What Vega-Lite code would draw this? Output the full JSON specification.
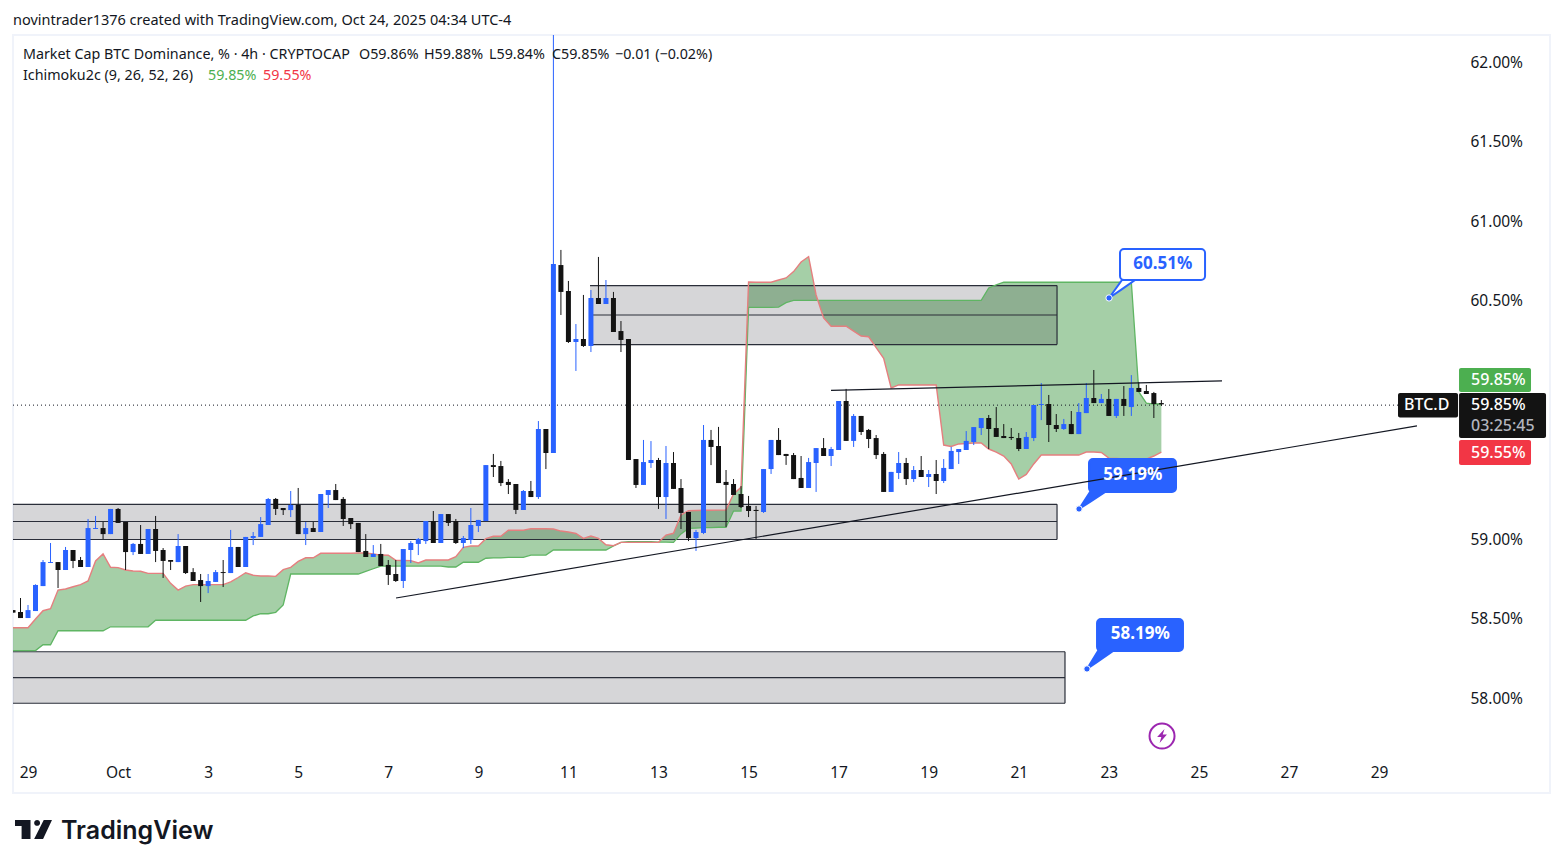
{
  "$schema": "https://vega.github.io/schema/vega-lite/v6.json",
  "autosize": {"type": "none"},
  "padding": {"left": 13, "top": 35, "right": 13, "bottom": 75},
  "width": 1537,
  "height": 758,
  "background": "#ffffff",
  "title": {"text": "novintrader1376 created with TradingView.com, Oct 24, 2025 04:34 UTC-4", "anchor": "start", "frame": "group", "offset": 7, "font": "Noto Sans", "fontSize": 14.5, "fontWeight": "normal", "color": "#131722"},
  "config": {"view": {"stroke": "#f0f3fa", "strokeWidth": 2}},
  "resolve": {"scale": {"color": "independent", "fill": "independent"}, "axis": {"x": "independent", "y": "independent"}},
  "datasets": {
    "bars": [
      {"i":-2,"o":58.556,"h":58.556,"l":58.54,"c":58.54,"a":58.301,"b":58.445},
      {"i":-1,"o":58.544,"h":58.632,"l":58.506,"c":58.506,"a":58.301,"b":58.445},
      {"i":0,"o":58.506,"h":58.588,"l":58.506,"c":58.556,"a":58.301,"b":58.445},
      {"i":1,"o":58.55,"h":58.718,"l":58.55,"c":58.714,"a":58.301,"b":58.5},
      {"i":2,"o":58.707,"h":58.871,"l":58.707,"c":58.858,"a":58.338,"b":58.552},
      {"i":3,"o":58.852,"h":58.978,"l":58.852,"c":58.858,"a":58.338,"b":58.565},
      {"i":4,"o":58.858,"h":58.858,"l":58.695,"c":58.808,"a":58.426,"b":58.682},
      {"i":5,"o":58.808,"h":58.953,"l":58.808,"c":58.934,"a":58.426,"b":58.689},
      {"i":6,"o":58.934,"h":58.934,"l":58.82,"c":58.865,"a":58.426,"b":58.703},
      {"i":7,"o":58.871,"h":58.89,"l":58.827,"c":58.827,"a":58.426,"b":58.716},
      {"i":8,"o":58.827,"h":59.129,"l":58.827,"c":59.072,"a":58.426,"b":58.739},
      {"i":9,"o":59.066,"h":59.148,"l":59.066,"c":59.072,"a":58.426,"b":58.865},
      {"i":10,"o":59.072,"h":59.11,"l":59.003,"c":59.034,"a":58.426,"b":58.909},
      {"i":11,"o":59.034,"h":59.192,"l":59.034,"c":59.192,"a":58.451,"b":58.825},
      {"i":12,"o":59.192,"h":59.198,"l":59.104,"c":59.104,"a":58.451,"b":58.823},
      {"i":13,"o":59.11,"h":59.11,"l":58.808,"c":58.921,"a":58.451,"b":58.808},
      {"i":14,"o":58.921,"h":58.978,"l":58.902,"c":58.972,"a":58.451,"b":58.802},
      {"i":15,"o":58.972,"h":59.091,"l":58.909,"c":58.909,"a":58.451,"b":58.8},
      {"i":16,"o":58.909,"h":59.066,"l":58.909,"c":59.066,"a":58.451,"b":58.787},
      {"i":17,"o":59.066,"h":59.148,"l":58.858,"c":58.928,"a":58.492,"b":58.787},
      {"i":18,"o":58.934,"h":58.946,"l":58.758,"c":58.865,"a":58.492,"b":58.787},
      {"i":19,"o":58.871,"h":58.871,"l":58.808,"c":58.86,"a":58.492,"b":58.724},
      {"i":20,"o":58.858,"h":59.034,"l":58.858,"c":58.959,"a":58.492,"b":58.682},
      {"i":21,"o":58.959,"h":58.959,"l":58.783,"c":58.789,"a":58.492,"b":58.707},
      {"i":22,"o":58.795,"h":58.82,"l":58.739,"c":58.739,"a":58.492,"b":58.716},
      {"i":23,"o":58.745,"h":58.783,"l":58.607,"c":58.707,"a":58.492,"b":58.716},
      {"i":24,"o":58.707,"h":58.783,"l":58.663,"c":58.739,"a":58.492,"b":58.716},
      {"i":25,"o":58.733,"h":58.808,"l":58.733,"c":58.795,"a":58.492,"b":58.716},
      {"i":26,"o":58.795,"h":58.871,"l":58.701,"c":58.789,"a":58.492,"b":58.716},
      {"i":27,"o":58.789,"h":59.06,"l":58.789,"c":58.953,"a":58.492,"b":58.733},
      {"i":28,"o":58.953,"h":58.953,"l":58.827,"c":58.827,"a":58.492,"b":58.761},
      {"i":29,"o":58.827,"h":59.016,"l":58.827,"c":59.016,"a":58.492,"b":58.791},
      {"i":30,"o":59.009,"h":59.047,"l":58.965,"c":59.022,"a":58.519,"b":58.775},
      {"i":31,"o":59.016,"h":59.141,"l":59.016,"c":59.097,"a":58.533,"b":58.77},
      {"i":32,"o":59.091,"h":59.261,"l":59.091,"c":59.255,"a":58.533,"b":58.77},
      {"i":33,"o":59.255,"h":59.261,"l":59.154,"c":59.192,"a":58.542,"b":58.768},
      {"i":34,"o":59.198,"h":59.198,"l":59.154,"c":59.185,"a":58.588,"b":58.81},
      {"i":35,"o":59.185,"h":59.305,"l":59.141,"c":59.217,"a":58.783,"b":58.825},
      {"i":36,"o":59.217,"h":59.324,"l":59.034,"c":59.034,"a":58.783,"b":58.862},
      {"i":37,"o":59.034,"h":59.11,"l":58.965,"c":59.072,"a":58.783,"b":58.885},
      {"i":38,"o":59.072,"h":59.11,"l":59.047,"c":59.047,"a":58.783,"b":58.885},
      {"i":39,"o":59.047,"h":59.286,"l":59.047,"c":59.286,"a":58.783,"b":58.913},
      {"i":40,"o":59.28,"h":59.311,"l":59.198,"c":59.311,"a":58.783,"b":58.913},
      {"i":41,"o":59.311,"h":59.349,"l":59.248,"c":59.248,"a":58.783,"b":58.913},
      {"i":42,"o":59.255,"h":59.267,"l":59.085,"c":59.129,"a":58.783,"b":58.913},
      {"i":43,"o":59.135,"h":59.135,"l":59.066,"c":59.097,"a":58.783,"b":58.913},
      {"i":44,"o":59.104,"h":59.104,"l":58.921,"c":58.921,"a":58.783,"b":58.915},
      {"i":45,"o":58.928,"h":59.034,"l":58.89,"c":58.89,"a":58.8,"b":58.915},
      {"i":46,"o":58.89,"h":58.965,"l":58.89,"c":58.909,"a":58.816,"b":58.909},
      {"i":47,"o":58.909,"h":58.972,"l":58.833,"c":58.833,"a":58.833,"b":58.902},
      {"i":48,"o":58.84,"h":58.871,"l":58.714,"c":58.777,"a":58.833,"b":58.901},
      {"i":49,"o":58.783,"h":58.871,"l":58.733,"c":58.739,"a":58.833,"b":58.869},
      {"i":50,"o":58.739,"h":58.94,"l":58.695,"c":58.94,"a":58.833,"b":58.868},
      {"i":51,"o":58.934,"h":58.99,"l":58.852,"c":58.978,"a":58.833,"b":58.867},
      {"i":52,"o":58.972,"h":59.009,"l":58.902,"c":59.003,"a":58.833,"b":58.852},
      {"i":53,"o":58.99,"h":59.116,"l":58.972,"c":59.116,"a":58.833,"b":58.871},
      {"i":54,"o":59.116,"h":59.179,"l":58.978,"c":58.978,"a":58.833,"b":58.871},
      {"i":55,"o":58.978,"h":59.16,"l":58.978,"c":59.16,"a":58.833,"b":58.871},
      {"i":56,"o":59.16,"h":59.16,"l":59.085,"c":59.104,"a":58.827,"b":58.871},
      {"i":57,"o":59.116,"h":59.129,"l":58.972,"c":58.978,"a":58.827,"b":58.892},
      {"i":58,"o":58.978,"h":59.022,"l":58.946,"c":59.009,"a":58.857,"b":58.951},
      {"i":59,"o":58.997,"h":59.198,"l":58.972,"c":59.091,"a":58.857,"b":58.959},
      {"i":60,"o":59.085,"h":59.123,"l":59.047,"c":59.123,"a":58.857,"b":58.959},
      {"i":61,"o":59.116,"h":59.468,"l":59.116,"c":59.468,"a":58.882,"b":59.005},
      {"i":62,"o":59.468,"h":59.538,"l":59.393,"c":59.456,"a":58.884,"b":59.02},
      {"i":63,"o":59.462,"h":59.494,"l":59.336,"c":59.355,"a":58.884,"b":59.02},
      {"i":64,"o":59.362,"h":59.38,"l":59.286,"c":59.343,"a":58.887,"b":59.058},
      {"i":65,"o":59.349,"h":59.349,"l":59.16,"c":59.186,"a":58.888,"b":59.058},
      {"i":66,"o":59.186,"h":59.311,"l":59.186,"c":59.305,"a":58.888,"b":59.058},
      {"i":67,"o":59.305,"h":59.368,"l":59.267,"c":59.267,"a":58.902,"b":59.068},
      {"i":68,"o":59.267,"h":59.745,"l":59.255,"c":59.695,"a":58.902,"b":59.068},
      {"i":69,"o":59.695,"h":59.695,"l":59.443,"c":59.544,"a":58.902,"b":59.068},
      {"i":70,"o":59.544,"h":62.3,"l":59.544,"c":60.733,"a":58.934,"b":59.066},
      {"i":71,"o":60.726,"h":60.821,"l":60.412,"c":60.557,"a":58.934,"b":59.053},
      {"i":72,"o":60.563,"h":60.626,"l":60.236,"c":60.242,"a":58.934,"b":59.047},
      {"i":73,"o":60.242,"h":60.355,"l":60.06,"c":60.261,"a":58.934,"b":59.038},
      {"i":74,"o":60.261,"h":60.538,"l":60.211,"c":60.217,"a":58.934,"b":59.007},
      {"i":75,"o":60.217,"h":60.569,"l":60.179,"c":60.519,"a":58.934,"b":59.022},
      {"i":76,"o":60.519,"h":60.777,"l":60.481,"c":60.481,"a":58.934,"b":59.007},
      {"i":77,"o":60.481,"h":60.632,"l":60.481,"c":60.519,"a":58.934,"b":58.967},
      {"i":78,"o":60.519,"h":60.557,"l":60.305,"c":60.305,"a":58.959,"b":58.961},
      {"i":79,"o":60.311,"h":60.374,"l":60.179,"c":60.255,"a":58.982,"b":58.982},
      {"i":80,"o":60.261,"h":60.261,"l":59.5,"c":59.5,"a":58.986,"b":58.982},
      {"i":81,"o":59.506,"h":59.506,"l":59.324,"c":59.343,"a":58.986,"b":58.982},
      {"i":82,"o":59.343,"h":59.626,"l":59.343,"c":59.487,"a":58.986,"b":58.982},
      {"i":83,"o":59.481,"h":59.619,"l":59.45,"c":59.5,"a":58.986,"b":58.982},
      {"i":84,"o":59.5,"h":59.513,"l":59.192,"c":59.267,"a":58.984,"b":58.982},
      {"i":85,"o":59.267,"h":59.588,"l":59.129,"c":59.481,"a":58.984,"b":59.028},
      {"i":86,"o":59.481,"h":59.55,"l":59.318,"c":59.318,"a":58.982,"b":59.039},
      {"i":87,"o":59.324,"h":59.38,"l":59.066,"c":59.167,"a":59.035,"b":59.154},
      {"i":88,"o":59.173,"h":59.173,"l":58.99,"c":59.009,"a":59.07,"b":59.181},
      {"i":89,"o":59.009,"h":59.06,"l":58.928,"c":59.047,"a":59.072,"b":59.182},
      {"i":90,"o":59.041,"h":59.72,"l":59.034,"c":59.626,"a":59.074,"b":59.184},
      {"i":91,"o":59.626,"h":59.689,"l":59.468,"c":59.582,"a":59.075,"b":59.184},
      {"i":92,"o":59.588,"h":59.708,"l":59.355,"c":59.355,"a":59.077,"b":59.185},
      {"i":93,"o":59.362,"h":59.437,"l":59.079,"c":59.343,"a":59.077,"b":59.185},
      {"i":94,"o":59.349,"h":59.38,"l":59.28,"c":59.28,"a":59.179,"b":59.286},
      {"i":95,"o":59.286,"h":59.336,"l":59.198,"c":59.204,"a":59.179,"b":59.328},
      {"i":96,"o":59.211,"h":59.274,"l":59.141,"c":59.179,"a":60.46,"b":60.619},
      {"i":97,"o":59.186,"h":59.211,"l":59.003,"c":59.179,"a":60.46,"b":60.618},
      {"i":98,"o":59.173,"h":59.443,"l":59.167,"c":59.443,"a":60.46,"b":60.618},
      {"i":99,"o":59.443,"h":59.626,"l":59.412,"c":59.626,"a":60.46,"b":60.618},
      {"i":100,"o":59.626,"h":59.701,"l":59.531,"c":59.531,"a":60.462,"b":60.632},
      {"i":101,"o":59.538,"h":59.538,"l":59.469,"c":59.525,"a":60.49,"b":60.645},
      {"i":102,"o":59.531,"h":59.544,"l":59.38,"c":59.38,"a":60.504,"b":60.685},
      {"i":103,"o":59.387,"h":59.525,"l":59.324,"c":59.324,"a":60.504,"b":60.745},
      {"i":104,"o":59.324,"h":59.513,"l":59.324,"c":59.487,"a":60.504,"b":60.779},
      {"i":105,"o":59.481,"h":59.575,"l":59.299,"c":59.575,"a":60.504,"b":60.538},
      {"i":106,"o":59.575,"h":59.638,"l":59.525,"c":59.525,"a":60.504,"b":60.393},
      {"i":107,"o":59.525,"h":59.582,"l":59.462,"c":59.569,"a":60.504,"b":60.341},
      {"i":108,"o":59.563,"h":59.871,"l":59.563,"c":59.871,"a":60.504,"b":60.341},
      {"i":109,"o":59.871,"h":59.947,"l":59.62,"c":59.62,"a":60.504,"b":60.341},
      {"i":110,"o":59.62,"h":59.789,"l":59.582,"c":59.777,"a":60.504,"b":60.311},
      {"i":111,"o":59.777,"h":59.777,"l":59.657,"c":59.676,"a":60.504,"b":60.28},
      {"i":112,"o":59.689,"h":59.695,"l":59.575,"c":59.632,"a":60.504,"b":60.275},
      {"i":113,"o":59.638,"h":59.657,"l":59.506,"c":59.531,"a":60.504,"b":60.207},
      {"i":114,"o":59.538,"h":59.55,"l":59.299,"c":59.299,"a":60.504,"b":60.14},
      {"i":115,"o":59.299,"h":59.425,"l":59.299,"c":59.425,"a":60.504,"b":59.953},
      {"i":116,"o":59.418,"h":59.55,"l":59.38,"c":59.481,"a":60.504,"b":59.972},
      {"i":117,"o":59.481,"h":59.513,"l":59.343,"c":59.38,"a":60.504,"b":59.972},
      {"i":118,"o":59.38,"h":59.462,"l":59.362,"c":59.437,"a":60.504,"b":59.972},
      {"i":119,"o":59.437,"h":59.525,"l":59.393,"c":59.393,"a":60.504,"b":59.972},
      {"i":120,"o":59.393,"h":59.437,"l":59.33,"c":59.412,"a":60.504,"b":59.972},
      {"i":121,"o":59.412,"h":59.5,"l":59.286,"c":59.368,"a":60.504,"b":59.972},
      {"i":122,"o":59.368,"h":59.506,"l":59.355,"c":59.45,"a":60.504,"b":59.594},
      {"i":123,"o":59.443,"h":59.582,"l":59.443,"c":59.557,"a":60.504,"b":59.585},
      {"i":124,"o":59.55,"h":59.569,"l":59.475,"c":59.569,"a":60.504,"b":59.601},
      {"i":125,"o":59.563,"h":59.682,"l":59.563,"c":59.62,"a":60.504,"b":59.604},
      {"i":126,"o":59.613,"h":59.707,"l":59.594,"c":59.707,"a":60.504,"b":59.607},
      {"i":127,"o":59.701,"h":59.764,"l":59.657,"c":59.764,"a":60.504,"b":59.607},
      {"i":128,"o":59.764,"h":59.783,"l":59.569,"c":59.695,"a":60.582,"b":59.569},
      {"i":129,"o":59.701,"h":59.833,"l":59.645,"c":59.645,"a":60.601,"b":59.55},
      {"i":130,"o":59.651,"h":59.726,"l":59.638,"c":59.638,"a":60.618,"b":59.525},
      {"i":131,"o":59.645,"h":59.701,"l":59.626,"c":59.638,"a":60.618,"b":59.475},
      {"i":132,"o":59.638,"h":59.67,"l":59.556,"c":59.569,"a":60.618,"b":59.38},
      {"i":133,"o":59.569,"h":59.676,"l":59.569,"c":59.645,"a":60.618,"b":59.409},
      {"i":134,"o":59.638,"h":59.846,"l":59.619,"c":59.846,"a":60.618,"b":59.475},
      {"i":135,"o":59.846,"h":59.984,"l":59.751,"c":59.852,"a":60.618,"b":59.531},
      {"i":136,"o":59.852,"h":59.909,"l":59.613,"c":59.72,"a":60.618,"b":59.531},
      {"i":137,"o":59.72,"h":59.789,"l":59.676,"c":59.695,"a":60.618,"b":59.531},
      {"i":138,"o":59.695,"h":59.758,"l":59.689,"c":59.726,"a":60.618,"b":59.531},
      {"i":139,"o":59.726,"h":59.808,"l":59.663,"c":59.663,"a":60.618,"b":59.531},
      {"i":140,"o":59.663,"h":59.858,"l":59.663,"c":59.802,"a":60.618,"b":59.531},
      {"i":141,"o":59.795,"h":59.984,"l":59.795,"c":59.89,"a":60.618,"b":59.55},
      {"i":142,"o":59.89,"h":60.066,"l":59.858,"c":59.858,"a":60.618,"b":59.55},
      {"i":143,"o":59.858,"h":59.915,"l":59.858,"c":59.884,"a":60.618,"b":59.547},
      {"i":144,"o":59.884,"h":59.946,"l":59.777,"c":59.777,"a":60.618,"b":59.512},
      {"i":145,"o":59.777,"h":59.884,"l":59.764,"c":59.884,"a":60.618,"b":59.509},
      {"i":146,"o":59.884,"h":59.965,"l":59.777,"c":59.84,"a":60.618,"b":59.506},
      {"i":147,"o":59.833,"h":60.034,"l":59.777,"c":59.953,"a":60.618,"b":59.506},
      {"i":148,"o":59.953,"h":59.99,"l":59.928,"c":59.928,"a":59.928,"b":59.506},
      {"i":149,"o":59.934,"h":59.972,"l":59.915,"c":59.915,"a":59.858,"b":59.506},
      {"i":150,"o":59.921,"h":59.928,"l":59.764,"c":59.852,"a":59.852,"b":59.525},
      {"i":151,"o":59.858,"h":59.877,"l":59.84,"c":59.85,"a":59.852,"b":59.55}
    ],
    "zones": [
      {"start":74.88,"end":137.1,"top":60.597,"mid":60.412,"bottom":60.226},
      {"start":-2,"end":137.1,"top":59.221,"mid":59.113,"bottom":59.0},
      {"start":-2,"end":138.16,"top":58.294,"mid":58.131,"bottom":57.97}
    ],
    "trend": [
      {"line":"support","i":49.03,"v":58.632},
      {"line":"support","i":185.06,"v":59.714},
      {"line":"resistance","i":106.99,"v":59.938},
      {"line":"resistance","i":159.08,"v":59.997}
    ],
    "last": [{"start":-2,"end":182.53,"v":59.845}],
    "pointers": [
      {"tag":"60.51%","kind":"outline","i":144.03,"v":60.519,"v2":60.519},
      {"tag":"60.51%","kind":"outline","i":145.76,"v":60.632,"v2":60.575},
      {"tag":"60.51%","kind":"outline","i":147.49,"v":60.632,"v2":60.632},
      {"tag":"59.19%","kind":"solid","i":140.03,"v":59.192,"v2":59.192},
      {"tag":"59.19%","kind":"solid","i":141.5,"v":59.299,"v2":59.237},
      {"tag":"59.19%","kind":"solid","i":143.5,"v":59.299,"v2":59.299},
      {"tag":"58.19%","kind":"solid","i":141.09,"v":58.186,"v2":58.186},
      {"tag":"58.19%","kind":"solid","i":142.56,"v":58.299,"v2":58.233},
      {"tag":"58.19%","kind":"solid","i":144.56,"v":58.299,"v2":58.299}
    ],
    "callouts": [
      {"kind":"outline","left":145.49,"right":156.82,"top":60.827,"bottom":60.632},
      {"kind":"solid","left":141.36,"right":152.95,"top":59.506,"bottom":59.299},
      {"kind":"solid","left":142.43,"right":153.88,"top":58.5,"bottom":58.299}
    ],
    "anchors": [
      {"i":144.03,"v":60.519},
      {"i":140.03,"v":59.192},
      {"i":141.09,"v":58.186}
    ],
    "calloutText": [
      {"kind":"outline","i":151.2,"v":60.733,"text":"60.51%"},
      {"kind":"solid","i":147.2,"v":59.406,"text":"59.19%"},
      {"kind":"solid","i":148.2,"v":58.406,"text":"58.19%"}
    ],
    "scaleTags": [
      {"kind":"ask","left":190.66,"right":200.25,"top":60.079,"bottom":59.928},
      {"kind":"bid","left":190.66,"right":200.25,"top":59.626,"bottom":59.469},
      {"kind":"price","left":190.66,"right":202.25,"top":59.921,"bottom":59.638},
      {"kind":"price","left":182.53,"right":190.53,"top":59.921,"bottom":59.767}
    ],
    "scaleText": [
      {"kind":"main","i":192.26,"v":60.0,"text":"59.85%"},
      {"kind":"main","i":192.26,"v":59.846,"text":"59.85%"},
      {"kind":"muted","i":192.26,"v":59.714,"text":"03:25:45"},
      {"kind":"main","i":192.26,"v":59.547,"text":"59.55%"},
      {"kind":"main","i":183.33,"v":59.846,"text":"BTC.D"}
    ],
    "header": [
      {"kind":"base","i":-0.67,"v":62.047,"text":"Market Cap BTC Dominance, % · 4h · CRYPTOCAP"},
      {"kind":"base","i":44.1,"v":62.047,"text":"O59.86%"},
      {"kind":"base","i":52.76,"v":62.047,"text":"H59.88%"},
      {"kind":"base","i":61.42,"v":62.047,"text":"L59.84%"},
      {"kind":"base","i":69.81,"v":62.047,"text":"C59.85%"},
      {"kind":"base","i":78.2,"v":62.047,"text":"−0.01 (−0.02%)"},
      {"kind":"base","i":-0.67,"v":61.915,"text":"Ichimoku2c (9, 26, 52, 26)"},
      {"kind":"up","i":23.98,"v":61.915,"text":"59.85%"},
      {"kind":"down","i":31.31,"v":61.915,"text":"59.55%"}
    ],
    "brand": [{"i":4.4,"v":57.167,"text":"TradingView"}],
    "logo": [{"i":0.73,"v":57.176}],
    "badge": [{"i":151.09,"v":57.764}]
  },
  "layer": [
    {
      "data": {"name": "bars"},
      "mark": {"type": "area", "color": "#4c9f50", "opacity": 0.5, "clip": true},
      "encoding": {
        "x": {
          "field": "i", "type": "quantitative", "title": null,
          "scale": {"domain": [-2, 202.78], "nice": false, "zero": false, "padding": 0},
          "axis": {
            "orient": "bottom", "offset": -38, "zindex": 1, "domain": false, "ticks": false, "grid": false, "labelPadding": 10,
            "values": [0,12,24,36,48,60,72,84,96,108,120,132,144,156,168,180],
            "labelExpr": "datum.value == 12 ? 'Oct' : '' + (29 + datum.value / 6 - (datum.value > 12 ? 30 : 0))",
            "labelFont": "Noto Sans", "labelFontSize": 15.5, "labelColor": "#131722", "labelOverlap": false
          }
        },
        "y": {
          "field": "a", "type": "quantitative", "title": null,
          "scale": {"domain": [57.4056, 62.1729], "nice": false, "zero": false},
          "axis": {
            "orient": "right", "offset": -80, "zindex": 0, "domain": false, "ticks": false, "grid": false, "labelPadding": 0,
            "values": [58,58.5,59,59.5,60,60.5,61,61.5,62],
            "format": ".2f", "labelExpr": "datum.label + '%'",
            "labelFont": "Noto Sans", "labelFontSize": 15.5, "labelColor": "#131722", "labelOverlap": false
          }
        },
        "y2": {"field": "b"}
      }
    },
    {
      "data": {"name": "zones"},
      "mark": {"type": "rect", "color": "#32323c", "fillOpacity": 0.2, "clip": true},
      "encoding": {
        "x": {"field": "start", "type": "quantitative", "axis": null},
        "x2": {"field": "end"},
        "y": {"field": "top", "type": "quantitative", "axis": null},
        "y2": {"field": "bottom"}
      }
    },
    {
      "data": {"name": "zones"},
      "mark": {"type": "rule", "color": "#2a2e39", "strokeWidth": 1.2, "clip": true},
      "encoding": {
        "x": {"field": "start", "type": "quantitative", "axis": null},
        "x2": {"field": "end"},
        "y": {"field": "top", "type": "quantitative", "axis": null}
      }
    },
    {
      "data": {"name": "zones"},
      "mark": {"type": "rule", "color": "#2a2e39", "strokeWidth": 1.2, "clip": true},
      "encoding": {
        "x": {"field": "start", "type": "quantitative", "axis": null},
        "x2": {"field": "end"},
        "y": {"field": "mid", "type": "quantitative", "axis": null}
      }
    },
    {
      "data": {"name": "zones"},
      "mark": {"type": "rule", "color": "#2a2e39", "strokeWidth": 1.2, "clip": true},
      "encoding": {
        "x": {"field": "start", "type": "quantitative", "axis": null},
        "x2": {"field": "end"},
        "y": {"field": "bottom", "type": "quantitative", "axis": null}
      }
    },
    {
      "data": {"name": "zones"},
      "mark": {"type": "rule", "color": "#2a2e39", "strokeWidth": 1.2, "clip": true},
      "encoding": {
        "x": {"field": "end", "type": "quantitative", "axis": null},
        "y": {"field": "top", "type": "quantitative", "axis": null},
        "y2": {"field": "bottom"}
      }
    },
    {
      "data": {"name": "bars"},
      "mark": {"type": "line", "color": "#5fb563", "strokeWidth": 1.3, "clip": true},
      "encoding": {
        "x": {"field": "i", "type": "quantitative", "axis": null},
        "y": {"field": "a", "type": "quantitative", "axis": null}
      }
    },
    {
      "data": {"name": "bars"},
      "mark": {"type": "line", "color": "#e57f7f", "strokeWidth": 1.4, "clip": true},
      "encoding": {
        "x": {"field": "i", "type": "quantitative", "axis": null},
        "y": {"field": "b", "type": "quantitative", "axis": null}
      }
    },
    {
      "data": {"name": "last"},
      "mark": {"type": "rule", "color": "#131722", "strokeWidth": 1, "strokeDash": [1, 3]},
      "encoding": {
        "x": {"field": "start", "type": "quantitative", "axis": null},
        "x2": {"field": "end"},
        "y": {"field": "v", "type": "quantitative", "axis": null}
      }
    },
    {
      "data": {"name": "bars"},
      "mark": {"type": "rule", "strokeWidth": 1, "clip": true},
      "encoding": {
        "x": {"field": "i", "type": "quantitative", "axis": null},
        "y": {"field": "l", "type": "quantitative", "axis": null},
        "y2": {"field": "h"},
        "color": {"condition": {"test": "datum.c >= datum.o", "value": "#2962ff"}, "value": "#131313"}
      }
    },
    {
      "data": {"name": "bars"},
      "mark": {"type": "bar", "size": 5, "clip": true},
      "encoding": {
        "x": {"field": "i", "type": "quantitative", "axis": null},
        "y": {"field": "o", "type": "quantitative", "axis": null},
        "y2": {"field": "c"},
        "color": {"condition": {"test": "datum.c >= datum.o", "value": "#2962ff"}, "value": "#131313"}
      }
    },
    {
      "data": {"name": "callouts"},
      "mark": {"type": "rect", "cornerRadius": 4, "stroke": "#2962ff", "strokeWidth": 2},
      "encoding": {
        "x": {"field": "left", "type": "quantitative", "axis": null},
        "x2": {"field": "right"},
        "y": {"field": "top", "type": "quantitative", "axis": null},
        "y2": {"field": "bottom"},
        "fill": {"field": "kind", "scale": {"domain": ["outline", "solid"], "range": ["#ffffff", "#2962ff"]}, "legend": null}
      }
    },
    {
      "data": {"name": "pointers"},
      "mark": {"type": "area", "stroke": "#2962ff", "strokeWidth": 2},
      "encoding": {
        "x": {"field": "i", "type": "quantitative", "axis": null},
        "y": {"field": "v", "type": "quantitative", "axis": null},
        "y2": {"field": "v2"},
        "detail": {"field": "tag"},
        "fill": {"field": "kind", "scale": {"domain": ["outline", "solid"], "range": ["#ffffff", "#2962ff"]}, "legend": null}
      }
    },
    {
      "data": {"name": "anchors"},
      "mark": {"type": "point", "shape": "circle", "filled": true, "size": 40, "color": "#2962ff", "stroke": "#ffffff", "strokeWidth": 1, "opacity": 1},
      "encoding": {
        "x": {"field": "i", "type": "quantitative", "axis": null},
        "y": {"field": "v", "type": "quantitative", "axis": null}
      }
    },
    {
      "data": {"name": "trend"},
      "mark": {"type": "line", "color": "#131722", "strokeWidth": 1.2},
      "encoding": {
        "x": {"field": "i", "type": "quantitative", "axis": null},
        "y": {"field": "v", "type": "quantitative", "axis": null},
        "detail": {"field": "line"}
      }
    },
    {
      "data": {"name": "calloutText"},
      "mark": {"type": "text", "font": "Noto Sans", "fontSize": 17, "fontWeight": "bold", "align": "center", "baseline": "middle"},
      "encoding": {
        "x": {"field": "i", "type": "quantitative", "axis": null},
        "y": {"field": "v", "type": "quantitative", "axis": null},
        "text": {"field": "text"},
        "color": {"field": "kind", "scale": {"domain": ["outline", "solid"], "range": ["#2962ff", "#ffffff"]}, "legend": null}
      }
    },
    {
      "data": {"name": "scaleTags"},
      "mark": {"type": "rect", "cornerRadius": 2},
      "encoding": {
        "x": {"field": "left", "type": "quantitative", "axis": null},
        "x2": {"field": "right"},
        "y": {"field": "top", "type": "quantitative", "axis": null},
        "y2": {"field": "bottom"},
        "fill": {"field": "kind", "scale": {"domain": ["ask", "bid", "price"], "range": ["#4caf50", "#f23645", "#131313"]}, "legend": null}
      }
    },
    {
      "data": {"name": "scaleText"},
      "mark": {"type": "text", "font": "Noto Sans", "fontSize": 16, "fontWeight": 500, "align": "left", "baseline": "middle"},
      "encoding": {
        "x": {"field": "i", "type": "quantitative", "axis": null},
        "y": {"field": "v", "type": "quantitative", "axis": null},
        "text": {"field": "text"},
        "color": {"field": "kind", "scale": {"domain": ["main", "muted"], "range": ["#ffffff", "#b2b5be"]}, "legend": null}
      }
    },
    {
      "data": {"name": "header"},
      "mark": {"type": "text", "font": "Noto Sans", "fontSize": 14.3, "align": "left", "baseline": "middle"},
      "encoding": {
        "x": {"field": "i", "type": "quantitative", "axis": null},
        "y": {"field": "v", "type": "quantitative", "axis": null},
        "text": {"field": "text"},
        "color": {"field": "kind", "scale": {"domain": ["base", "up", "down"], "range": ["#131722", "#4caf50", "#f23645"]}, "legend": null}
      }
    },
    {
      "data": {"name": "brand"},
      "mark": {"type": "text", "font": "Inter", "fontSize": 25, "fontWeight": 600, "align": "left", "baseline": "middle", "color": "#131722"},
      "encoding": {
        "x": {"field": "i", "type": "quantitative", "axis": null},
        "y": {"field": "v", "type": "quantitative", "axis": null},
        "text": {"field": "text"}
      }
    },
    {
      "data": {"name": "logo"},
      "mark": {"type": "point", "filled": true, "size": 1369, "color": "#131722", "opacity": 1, "strokeWidth": 0,
        "shape": "M-1 -.518L-.161 -.518L-.161 .518L-.643 .518L-.643 -.196L-1 -.196ZM.036 -.357a.16 .16 0 1 0 .32 0a.16 .16 0 1 0 -.32 0ZM.554 -.518L1 -.518L.518 .518L.036 .518Z"},
      "encoding": {
        "x": {"field": "i", "type": "quantitative", "axis": null},
        "y": {"field": "v", "type": "quantitative", "axis": null}
      }
    },
    {
      "data": {"name": "badge"},
      "mark": {"type": "point", "shape": "circle", "filled": false, "size": 625, "color": "#9c27b0", "strokeWidth": 2, "opacity": 1},
      "encoding": {
        "x": {"field": "i", "type": "quantitative", "axis": null},
        "y": {"field": "v", "type": "quantitative", "axis": null}
      }
    },
    {
      "data": {"name": "badge"},
      "mark": {"type": "point", "filled": true, "size": 196, "color": "#9c27b0", "opacity": 1, "strokeWidth": 0,
        "shape": "M.35 -1L-.7 .15L-.1 .15L-.35 1L.7 -.2L.1 -.2Z"},
      "encoding": {
        "x": {"field": "i", "type": "quantitative", "axis": null},
        "y": {"field": "v", "type": "quantitative", "axis": null}
      }
    }
  ]
}
